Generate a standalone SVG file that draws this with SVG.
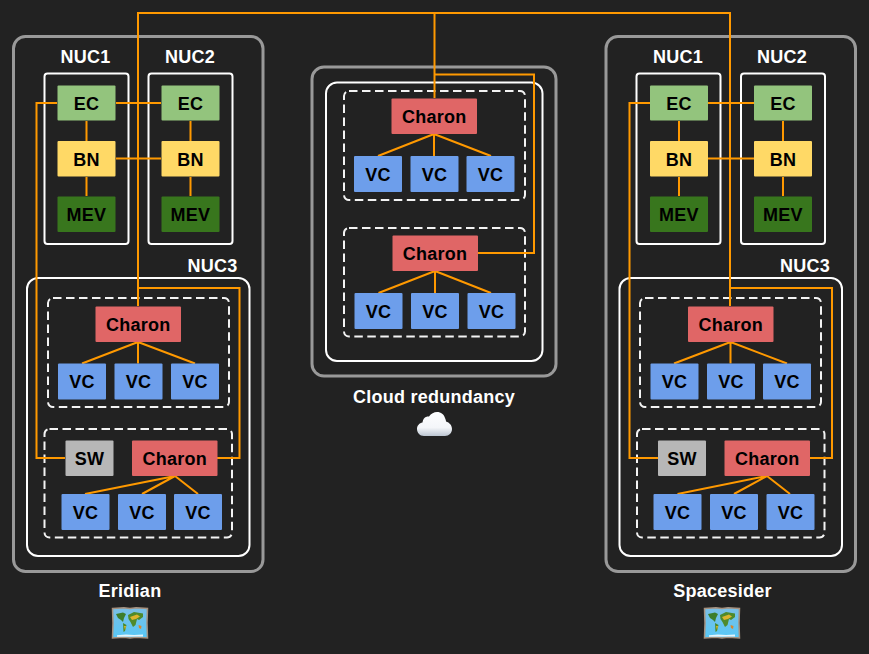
<svg xmlns="http://www.w3.org/2000/svg" width="869" height="654" viewBox="0 0 869 654">
<style>
.site{fill:none;stroke:#999;stroke-width:3}
.box{fill:none;stroke:#fff;stroke-width:2}
.dash{fill:none;stroke:#f3f3f3;stroke-width:2;stroke-dasharray:8.5 4.5}
.c{fill:none;stroke:#f90;stroke-width:2}
text{font-family:"Liberation Sans",Arial,sans-serif;font-weight:700;font-size:18px;text-anchor:middle;letter-spacing:.25px}
.l{fill:#fff}
.n{fill:#000}
.ec{fill:#93c47d}.bn{fill:#ffd966}.mev{fill:#38761d}.ch{fill:#e06666}.vc{fill:#6d9eeb}.sw{fill:#b7b7b7}
</style>
<defs>
<linearGradient id="sea" x1="0" y1="0" x2="0" y2="1"><stop offset="0" stop-color="#7bbfe6"/><stop offset="1" stop-color="#58c8f6"/></linearGradient>
<linearGradient id="cl" x1="0" y1="0" x2="0" y2="1"><stop offset="0" stop-color="#fdfeff"/><stop offset="0.65" stop-color="#f4f6f9"/><stop offset="1" stop-color="#bcc6d2"/></linearGradient>
<g id="map">
<path d="M0.5 1.5 L12 0.8 L18 1.5 L24 0.8 L35.5 1.5 L35 16 L35.5 31 L24 30.2 L18 31 L12 30.2 L0.5 31 L1 16 Z" fill="url(#sea)" stroke="#a5917f" stroke-width="1.5"/>
<path d="M4 7 L11 5.500 L14 7 L12 11 L11 15 L9 13 L6 11 Z" fill="#3d7d2a"/>
<path d="M11 16 L14.500 18 L13 24 L11.500 25 Z" fill="#4d8a2a"/>
<path d="M12 19 L14 19 L13 23 Z" fill="#e0b52e"/>
<path d="M16 8 L22 5 L31 6.500 L31 10 L27 13 L25 12 L23.500 18 L21 20 L18.500 15 L16.500 12 Z" fill="#4f8a2c"/>
<path d="M18 10 L25 7.500 L28 9.500 L24 12 L20 13 Z" fill="#dcb42e"/>
<path d="M26.500 18 L29.500 19 L29 22 L27 21 Z" fill="#d8862c"/>
<path d="M5 28.300 L14 27.500 L22 28 L31 27.500 L31 29.500 L5 29.800 Z" fill="#e6f5fb"/>
</g>
</defs>
<rect width="869" height="654" fill="#222"/>

<g id="containers">
<rect class="site" x="13.5" y="36.5" width="249.500" height="535" rx="12"/>
<rect class="box" x="44.500" y="73.500" width="84" height="170.500" rx="3"/>
<rect class="box" x="148.500" y="73.500" width="84" height="170.500" rx="3"/>
<rect class="box" x="27" y="278" width="222.500" height="278" rx="11"/>
<rect class="dash" x="48" y="298" width="181" height="109" rx="5"/>
<rect class="dash" x="44.500" y="429" width="187.500" height="108.500" rx="5"/>
<rect class="site" x="312" y="67" width="244" height="309" rx="12"/>
<rect class="box" x="326" y="82.500" width="216.500" height="278.500" rx="11"/>
<rect class="dash" x="344" y="91" width="181" height="109" rx="5"/>
<rect class="dash" x="344" y="228" width="181" height="108.500" rx="5"/>
<rect class="site" x="606" y="36.500" width="249.500" height="535" rx="12"/>
<rect class="box" x="636.500" y="73.500" width="84" height="170.500" rx="3"/>
<rect class="box" x="741" y="73.500" width="84" height="170.500" rx="3"/>
<rect class="box" x="619.500" y="278" width="222.500" height="278" rx="11"/>
<rect class="dash" x="640" y="298" width="181" height="109" rx="5"/>
<rect class="dash" x="637" y="429" width="187.500" height="108.500" rx="5"/>
</g>

<g id="connectors">
<path class="c" d="M138 306V13H730V306"/>
<path class="c" d="M434.500 13V98"/>
<path class="c" d="M138 288H239.500V458H217"/>
<path class="c" d="M57 103H36.500V458H65"/>
<path class="c" d="M116 103H161M116 158.500H161M86.500 121V141M86.500 177V196M190.500 121V141M190.500 177V196"/>
<path class="c" d="M138 342L82 363.500M138 342V363.500M138 342L195 363.500"/>
<path class="c" d="M175 476L85 494M175 476L142 494M175 476L198 494"/>
<path class="c" d="M434.500 74.500H534V253H478"/>
<path class="c" d="M434 134L378 156M434 134V156M434 134L491 156"/>
<path class="c" d="M435 271L378.500 293M435 271V293M435 271L491 293"/>
<path class="c" d="M730 288H832V458H810"/>
<path class="c" d="M650 103H629.500V458H658"/>
<path class="c" d="M708 103H754M708 158.500H754M679 121V141M679 177V196M783 121V141M783 177V196"/>
<path class="c" d="M730.500 342L674 363.500M730.500 342V363.500M730.500 342L787 363.500"/>
<path class="c" d="M767 476L677.500 494M767 476L734 494M767 476L790 494"/>
</g>

<g id="labels">
<text class="l" x="85.500" y="63">NUC1</text>
<text class="l" x="190" y="63">NUC2</text>
<text class="l" x="212.500" y="272">NUC3</text>
<text class="l" x="678" y="63">NUC1</text>
<text class="l" x="782" y="63">NUC2</text>
<text class="l" x="805" y="272">NUC3</text>
<text class="l" x="130" y="597">Eridian</text>
<text class="l" x="434" y="403">Cloud redundancy</text>
<text class="l" x="722.500" y="597">Spacesider</text>
</g>

<g id="eridian-ec1"><rect class="ec" x="57.500" y="85.500" width="58" height="35" rx="1"/><text class="n" x="86.500" y="110">EC</text></g>
<g id="eridian-bn1"><rect class="bn" x="57.500" y="141" width="58" height="35.500" rx="1"/><text class="n" x="86.500" y="165.500">BN</text></g>
<g id="eridian-mev1"><rect class="mev" x="57.500" y="196.500" width="58" height="35.500" rx="1"/><text class="n" x="86.500" y="221">MEV</text></g>
<g id="eridian-ec2"><rect class="ec" x="161.500" y="85.500" width="58" height="35" rx="1"/><text class="n" x="190.500" y="110">EC</text></g>
<g id="eridian-bn2"><rect class="bn" x="161.500" y="141" width="58" height="35.500" rx="1"/><text class="n" x="190.500" y="165.500">BN</text></g>
<g id="eridian-mev2"><rect class="mev" x="161.500" y="196.500" width="58" height="35.500" rx="1"/><text class="n" x="190.500" y="221">MEV</text></g>
<g id="eridian-charon1"><rect class="ch" x="95.500" y="306.500" width="85.500" height="35.500" rx="1"/><text class="n" x="138.200" y="331">Charon</text></g>
<g id="eridian-vc1"><rect class="vc" x="58" y="363.500" width="48" height="36" rx="1"/><text class="n" x="82" y="388">VC</text></g>
<g id="eridian-vc2"><rect class="vc" x="114.500" y="363.500" width="48" height="36" rx="1"/><text class="n" x="138.500" y="388">VC</text></g>
<g id="eridian-vc3"><rect class="vc" x="171" y="363.500" width="48" height="36" rx="1"/><text class="n" x="195" y="388">VC</text></g>
<g id="eridian-sw"><rect class="sw" x="65.500" y="440.500" width="48" height="35.500" rx="1"/><text class="n" x="89.500" y="465">SW</text></g>
<g id="eridian-charon2"><rect class="ch" x="132" y="440.500" width="85.500" height="35.500" rx="1"/><text class="n" x="174.800" y="465">Charon</text></g>
<g id="eridian-vc4"><rect class="vc" x="61.500" y="494" width="48" height="36" rx="1"/><text class="n" x="85.500" y="518.500">VC</text></g>
<g id="eridian-vc5"><rect class="vc" x="118" y="494" width="48" height="36" rx="1"/><text class="n" x="142" y="518.500">VC</text></g>
<g id="eridian-vc6"><rect class="vc" x="174" y="494" width="48" height="36" rx="1"/><text class="n" x="198" y="518.500">VC</text></g>

<g id="cloud-charon1"><rect class="ch" x="391.500" y="98.500" width="85.500" height="35.500" rx="1"/><text class="n" x="434.200" y="123">Charon</text></g>
<g id="cloud-vc1"><rect class="vc" x="354" y="156" width="48" height="36" rx="1"/><text class="n" x="378" y="180.500">VC</text></g>
<g id="cloud-vc2"><rect class="vc" x="410.500" y="156" width="48" height="36" rx="1"/><text class="n" x="434.500" y="180.500">VC</text></g>
<g id="cloud-vc3"><rect class="vc" x="466.500" y="156" width="48" height="36" rx="1"/><text class="n" x="490.500" y="180.500">VC</text></g>
<g id="cloud-charon2"><rect class="ch" x="392.500" y="235.500" width="85.500" height="35.500" rx="1"/><text class="n" x="435" y="260">Charon</text></g>
<g id="cloud-vc4"><rect class="vc" x="354.500" y="293" width="48" height="36" rx="1"/><text class="n" x="378.500" y="317.500">VC</text></g>
<g id="cloud-vc5"><rect class="vc" x="411" y="293" width="48" height="36" rx="1"/><text class="n" x="435" y="317.500">VC</text></g>
<g id="cloud-vc6"><rect class="vc" x="467.500" y="293" width="48" height="36" rx="1"/><text class="n" x="491.500" y="317.500">VC</text></g>

<g id="spacesider-ec1"><rect class="ec" x="650" y="85.500" width="58" height="35" rx="1"/><text class="n" x="679" y="110">EC</text></g>
<g id="spacesider-bn1"><rect class="bn" x="650" y="141" width="58" height="35.500" rx="1"/><text class="n" x="679" y="165.500">BN</text></g>
<g id="spacesider-mev1"><rect class="mev" x="650" y="196.500" width="58" height="35.500" rx="1"/><text class="n" x="679" y="221">MEV</text></g>
<g id="spacesider-ec2"><rect class="ec" x="754" y="85.500" width="58" height="35" rx="1"/><text class="n" x="783" y="110">EC</text></g>
<g id="spacesider-bn2"><rect class="bn" x="754" y="141" width="58" height="35.500" rx="1"/><text class="n" x="783" y="165.500">BN</text></g>
<g id="spacesider-mev2"><rect class="mev" x="754" y="196.500" width="58" height="35.500" rx="1"/><text class="n" x="783" y="221">MEV</text></g>
<g id="spacesider-charon1"><rect class="ch" x="688" y="306.500" width="85.500" height="35.500" rx="1"/><text class="n" x="730.700" y="331">Charon</text></g>
<g id="spacesider-vc1"><rect class="vc" x="650.500" y="363.500" width="48" height="36" rx="1"/><text class="n" x="674.500" y="388">VC</text></g>
<g id="spacesider-vc2"><rect class="vc" x="707" y="363.500" width="48" height="36" rx="1"/><text class="n" x="731" y="388">VC</text></g>
<g id="spacesider-vc3"><rect class="vc" x="763" y="363.500" width="48" height="36" rx="1"/><text class="n" x="787" y="388">VC</text></g>
<g id="spacesider-sw"><rect class="sw" x="658" y="440.500" width="48" height="35.500" rx="1"/><text class="n" x="682" y="465">SW</text></g>
<g id="spacesider-charon2"><rect class="ch" x="724.500" y="440.500" width="85.500" height="35.500" rx="1"/><text class="n" x="767.200" y="465">Charon</text></g>
<g id="spacesider-vc4"><rect class="vc" x="653.500" y="494" width="48" height="36" rx="1"/><text class="n" x="677.500" y="518.500">VC</text></g>
<g id="spacesider-vc5"><rect class="vc" x="710" y="494" width="48" height="36" rx="1"/><text class="n" x="734" y="518.500">VC</text></g>
<g id="spacesider-vc6"><rect class="vc" x="766.500" y="494" width="48" height="36" rx="1"/><text class="n" x="790.500" y="518.500">VC</text></g>

<g id="map-eridian"><use href="#map" x="112" y="607"/></g>
<g id="map-spacesider"><use href="#map" x="704" y="607"/></g>
<g id="cloud-icon"><path d="M424 436C419.500 436 417 432.500 417 429C417 425.500 419.500 423 422.500 422.500C423 418 426 416 429 416.500C431 413.500 434 412 437 412C441 412 444 414.500 445 418C446 420.500 446 421 446 421.500C449.500 422.500 452 425.500 452 429C452 433 449 436 445 436Z" fill="url(#cl)"/></g>
</svg>
